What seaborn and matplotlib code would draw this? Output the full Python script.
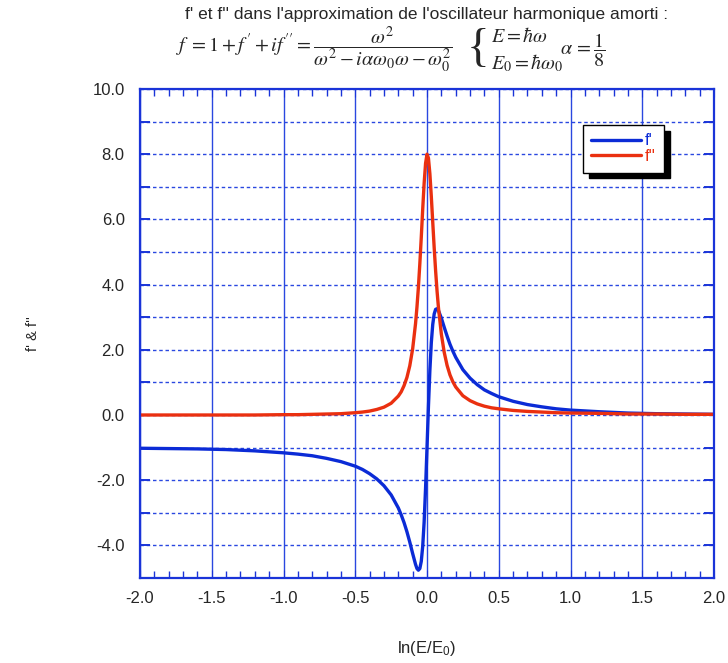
import numpy as np
import pandas as pd
import matplotlib
matplotlib.use("Agg")
import matplotlib.pyplot as plt
import seaborn as sns

# === Data ===
x_vals = [-2.0, -1.8, -1.6, -1.4, -1.2, -1.0, -0.9, -0.8, -0.7, -0.6, -0.5,
          -0.45, -0.4, -0.35, -0.3, -0.25, -0.2, -0.18, -0.16, -0.14, -0.12, -0.1,
          -0.08, -0.07, -0.06, -0.05, -0.04, -0.03, -0.02, -0.01, 0.0,
          0.01, 0.02, 0.03, 0.04, 0.05, 0.06, 0.07, 0.08,
          0.1, 0.12, 0.14, 0.16, 0.18, 0.2,
          0.25, 0.3, 0.35, 0.4, 0.45, 0.5,
          0.6, 0.7, 0.8, 0.9, 1.0, 1.2, 1.4, 1.6, 1.8, 2.0]
f_prime = [-1.02, -1.03, -1.04, -1.06, -1.10, -1.16, -1.20, -1.25, -1.33, -1.43, -1.57,
           -1.67, -1.80, -1.96, -2.17, -2.45, -2.85, -3.06, -3.30, -3.58, -3.90, -4.25,
           -4.58, -4.71, -4.76, -4.71, -4.49, -4.03, -3.28, -2.24, -1.00,
           0.26, 1.37, 2.22, 2.78, 3.10, 3.24, 3.26, 3.20,
           2.97, 2.69, 2.42, 2.17, 1.96, 1.77,
           1.39, 1.13, 0.93, 0.77, 0.66, 0.56,
           0.42, 0.32, 0.25, 0.19, 0.15, 0.10, 0.06, 0.04, 0.03, 0.02]
f_second = [0.00, 0.00, 0.00, 0.00, 0.00, 0.01, 0.01, 0.02, 0.03, 0.04, 0.07,
            0.09, 0.12, 0.17, 0.24, 0.36, 0.58, 0.71, 0.90, 1.15, 1.51, 2.03,
            2.80, 3.31, 3.92, 4.64, 5.45, 6.31, 7.11, 7.72, 8.00,
            7.88, 7.40, 6.70, 5.91, 5.13, 4.42, 3.80, 3.28,
            2.48, 1.92, 1.52, 1.23, 1.02, 0.86,
            0.59, 0.44, 0.34, 0.27, 0.22, 0.19,
            0.14, 0.11, 0.09, 0.07, 0.06, 0.05, 0.03, 0.03, 0.02, 0.02]
x_ticks = [-2.0, -1.5, -1.0, -0.5, 0.0, 0.5, 1.0, 1.5, 2.0]
y_ticks = [-4.0, -2.0, 0.0, 2.0, 4.0, 6.0, 8.0, 10.0]
y_minor = [-4, -3, -2, -1, 0, 1, 2, 3, 4, 5, 6, 7, 8, 9]

df = pd.DataFrame({"x": x_vals, "f'": f_prime, "f''": f_second})

# === Style ===
sns.set_style("white")
plt.rcParams['font.family'] = ['Liberation Sans', 'DejaVu Sans']
plt.rcParams['mathtext.fontset'] = 'stix'

frame_blue = '#1a34d8'
grid_blue = '#2a48e0'
line_blue = '#0b2bd6'
line_red = '#ea3010'

fig = plt.figure(figsize=(7.28, 6.63), dpi=100)
ax = fig.add_axes([0.1923, 0.1282, 0.7885, 0.7376])

sns.lineplot(data=df, x="x", y="f'", ax=ax, color=line_blue, lw=2.4, label="f'")
sns.lineplot(data=df, x="x", y="f''", ax=ax, color=line_red, lw=2.4, label="f''")

ax.set_xlim(-2, 2)
ax.set_ylim(-5, 10)
ax.set_xticks(x_ticks)
ax.set_xticklabels([f"{v:.1f}" for v in x_ticks])
ax.set_xticks(np.arange(-2.0, 2.001, 0.1), minor=True)
ax.set_yticks(y_ticks)
ax.set_yticklabels([f"{v:.1f}" for v in y_ticks])
ax.set_yticks(y_minor, minor=True)

ax.grid(axis='x', which='major', color=grid_blue, lw=1, ls='-')
ax.grid(axis='y', which='both', color=grid_blue, lw=1, ls=(0, (2.5, 2)))
ax.set_axisbelow(True)

for sp in ax.spines.values():
    sp.set_color(frame_blue)
    sp.set_linewidth(1.6)

ax.tick_params(axis='x', which='major', direction='in', top=True, bottom=True,
               length=6, color=frame_blue, labelsize=12, pad=9)
ax.tick_params(axis='x', which='minor', direction='in', top=True, bottom=True,
               length=5, width=1, color=frame_blue)
ax.tick_params(axis='y', which='both', direction='in', left=True, right=True,
               length=7, width=1.4, color=frame_blue, labelsize=12, pad=11)

ax.set_xlabel("ln(E/E$_\\mathregular{0}$)", fontsize=12)
ax.xaxis.set_label_coords(0.5, -0.125)
ax.set_ylabel("f' & f''", fontsize=10.5)
ax.yaxis.set_label_coords(-0.175, 0.5)

# === Legend ===
leg = ax.legend(loc='upper left', bbox_to_anchor=(0.772, 0.926), fontsize=12,
                frameon=True, fancybox=False, handlelength=3.0, handletextpad=0.2,
                borderpad=0.5, labelspacing=0.05, borderaxespad=0,
                shadow={'ox': 4, 'oy': -4, 'color': 'black', 'alpha': 1})
leg.get_frame().set_edgecolor('black')
leg.get_frame().set_linewidth(1.0)
for txt, col in zip(leg.get_texts(), [line_blue, line_red]):
    txt.set_color(col)

# === Title ===
fig.text(427 / 728, 1 - 14 / 663,
         "f' et f'' dans l'approximation de l'oscillateur harmonique amorti :",
         ha='center', va='center', fontsize=12.5)
fig.text(176 / 728, 1 - 50 / 663,
         r"$f\; = 1 + f\,' + if\,'' = \dfrac{\omega^2}{\omega^2 - i\alpha\omega_0\omega - \omega_0^2}$",
         ha='left', va='center', fontsize=14.5)
fig.text(489 / 728, 1 - 50 / 663, "{", ha='right', va='center', fontsize=34,
         family='Liberation Serif')
fig.text(491 / 728, 1 - 37 / 663, r"$E = \hbar\omega$", ha='left', va='center', fontsize=14.5)
fig.text(491 / 728, 1 - 63 / 663, r"$E_0 = \hbar\omega_0$", ha='left', va='center', fontsize=14.5)
fig.text(560 / 728, 1 - 50 / 663, r"$\alpha\, = \dfrac{1}{8}$", ha='left', va='center', fontsize=14.5)

plt.savefig('out.png', dpi=100)
plt.close()
